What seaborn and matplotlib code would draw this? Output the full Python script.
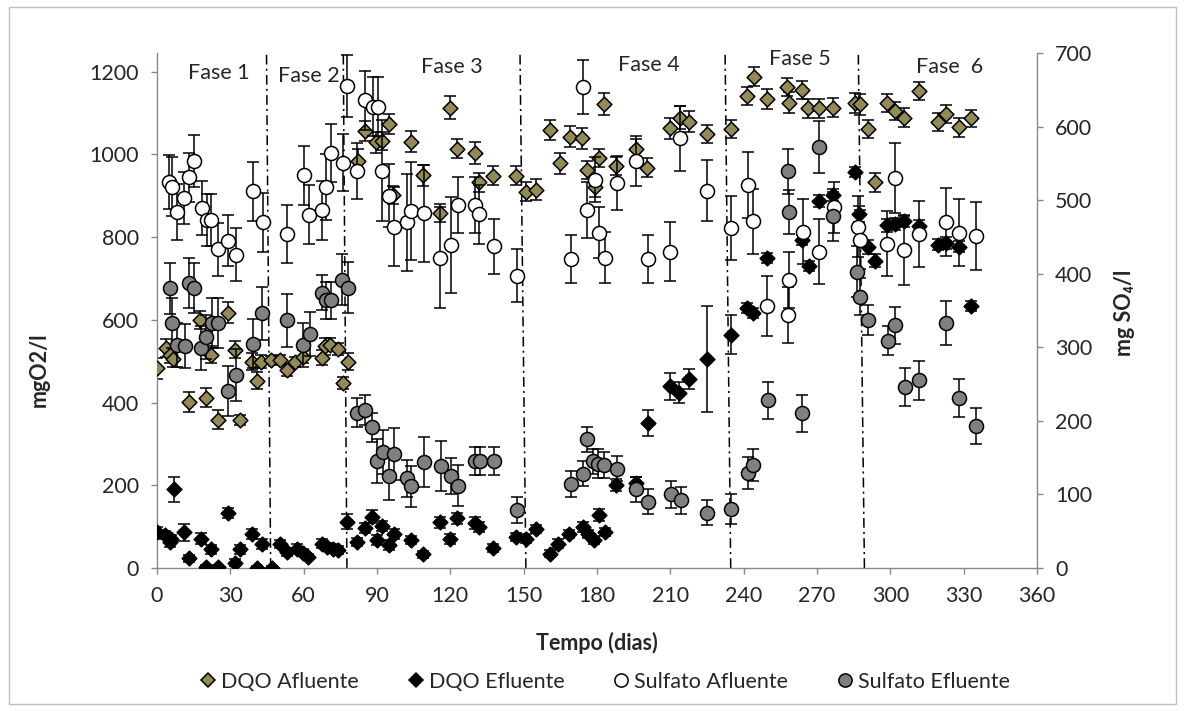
import numpy as np
import pandas as pd
import matplotlib
matplotlib.use("Agg")
import matplotlib.pyplot as plt
import matplotlib.transforms as mtransforms
import seaborn as sns
from matplotlib.lines import Line2D
from matplotlib.patches import Rectangle

# ---------------- data ----------------
dqo_af_dias = [0, 3.7, 5.3, 6.7, 13.1, 17.6, 20, 22.1, 24.8, 29.2, 31.9, 34, 39, 40.8, 42.6, 46.6, 50.3, 53, 56.5, 59.9, 67.4, 68.7, 70.8, 74.2, 76, 78.3,
               82.4, 85.1, 89.6, 91.9, 95, 96.7, 103.8, 109, 115.8, 119.9, 122.9, 130.1, 131.9, 137.6, 146.8, 150.9, 155.1,
               160.8, 164.9, 169, 173.8, 175.8, 179, 181, 182.9, 187.8, 196, 200.6, 209.9, 214, 217.8, 224.9, 234.7,
               241.5, 244.4, 249.7, 257.6, 258.7, 263.7, 266.5, 271, 276.7, 285.6, 287.4, 291, 293.8,
               298.8, 302, 305.6, 311.9, 319.7, 322.8, 327.9, 333]
dqo_af = [483, 532, 516, 505, 401, 600, 412, 516, 358, 617, 528, 358, 499, 453, 499, 503, 502, 479, 499, 511, 508, 536, 540, 529, 447, 499,
          984, 1057, 1029, 1033, 1073, 902, 1031, 949, 859, 1113, 1014, 1003, 932, 948, 948, 910, 915,
          1059, 978, 1043, 1039, 962, 922, 992, 1121, 972, 1012, 968, 1063, 1089, 1079, 1050, 1061,
          1142, 1188, 1134, 1162, 1125, 1156, 1111, 1111, 1113, 1124, 1121, 1061, 932,
          1124, 1105, 1089, 1154, 1079, 1097, 1065, 1087]
dqo_af_err = [25, 22, 20, 20, 24, 22, 24, 20, 23, 25, 20, 12, 20, 20, 15, 10, 12, 15, 12, 15, 18, 20, 15, 15, 15, 20,
              28, 24, 25, 22, 24, 22, 25, 26, 22, 27, 22, 26, 22, 23, 23, 24, 26,
              25, 25, 25, 25, 22, 24, 22, 27, 22, 25, 22, 25, 27, 25, 22, 22,
              22, 22, 24, 22, 25, 22, 22, 22, 22, 25, 25, 22, 22,
              22, 22, 22, 22, 22, 22, 22, 20]

dqo_ef_dias = [0, 3.3, 5.3, 5.9, 7.1, 11, 13.1, 18, 20, 22.1, 24.8, 29.2, 31.9, 34, 39, 40.8, 42.8, 46.9, 50.3, 53, 57.1, 59.9, 61.9, 67.4, 69.4, 72.1, 74.2, 77.9,
               82, 85.1, 88.1, 89.9, 91.9, 95, 97, 103.9, 109, 115.8, 119.9, 122.9, 130.1, 131.9, 137.6, 146.8, 150.9, 155.1,
               160.8, 164.2, 168.7, 174.2, 176.5, 178.6, 181, 183.1, 187.8, 196, 200.8, 209.9, 213.7, 217.8, 224.9, 234.7,
               241.5, 244, 249.7, 263.7, 266.8, 271, 276.7, 285.6, 287.3, 291, 293.8,
               298.6, 302, 305.6, 311.9, 319.7, 322.8, 327.9, 333]
dqo_ef = [87, 79, 63, 70, 190, 86, 23, 71, 2, 45, 2, 134, 13, 45, 82, 1, 59, 1, 58, 39, 47, 37, 27, 59, 51, 47, 43, 112,
          62, 96, 124, 67, 101, 55, 82, 67, 33, 110, 71, 120, 109, 98, 49, 75, 71, 94,
          35, 59, 82, 100, 82, 67, 128, 87, 201, 205, 350, 439, 424, 457, 505, 564,
          629, 617, 750, 793, 731, 887, 902, 957, 856, 776, 743,
          828, 831, 839, 827, 782, 785, 777, 634]
dqo_ef_err = [12, 10, 12, 10, 31, 20, 8, 14, 5, 10, 5, 12, 8, 10, 12, 5, 12, 5, 10, 10, 10, 8, 8, 10, 10, 10, 10, 18,
              10, 12, 15, 12, 12, 12, 12, 10, 8, 14, 12, 14, 14, 12, 10, 10, 10, 10,
              8, 10, 10, 12, 10, 10, 14, 10, 15, 14, 32, 33, 25, 25, 128, 47,
              12, 12, 12, 12, 12, 15, 15, 12, 20, 18, 15,
              15, 15, 15, 15, 14, 14, 14, 12]

sulf_af_dias = [5, 6, 8, 11, 13.2, 15.1, 18.3, 20.3, 22.1, 25.1, 29.2, 32.3, 39.2, 43.3, 53, 60.1, 62.2, 67.4, 69, 71.1, 76, 77.9,
                82, 85.1, 88.3, 90.6, 91.9, 95, 97, 102.2, 104, 109.3, 115.8, 120.2, 123, 130.1, 131.9, 137.9, 147.2,
                169.3, 174.2, 176.1, 179.2, 181, 183.1, 188.1, 195.8, 200.9, 209.9, 214, 224.9, 234.7,
                241.9, 244, 249.7, 258.1, 258.7, 264.1, 271, 277, 286.7, 287.4,
                298.5, 302, 305.6, 311.9, 322.8, 327.9, 335.1]
sulf_af = [525, 518, 484, 503, 531, 553, 489, 473, 473, 433, 445, 426, 512, 470, 454, 534, 480, 486, 518, 564, 551, 655,
           539, 636, 627, 627, 540, 506, 464, 470, 485, 482, 422, 439, 494, 494, 481, 437, 397,
           420, 654, 486, 528, 456, 422, 523, 553, 420, 430, 584, 513, 462,
           521, 471, 356, 344, 391, 457, 430, 490, 464, 446,
           441, 530, 432, 454, 470, 456, 451]
sulf_af_err = [37, 40, 38, 35, 33, 35, 37, 36, 36, 36, 35, 36, 40, 40, 40, 40, 40, 40, 45, 40, 39, 42,
               38, 40, 40, 40, 69, 43, 54, 66, 67, 66, 68, 65, 38, 38, 40, 37, 36,
               33, 37, 38, 30, 35, 35, 37, 34, 33, 40, 44, 41, 44,
               45, 44, 41, 38, 38, 44, 44, 35, 41, 40,
               44, 47, 47, 45, 46, 45, 46]

sulf_ef_dias = [5.3, 6.3, 8.1, 11.5, 13.1, 15.1, 18, 20, 22.4, 25.1, 29.2, 32.2, 39.4, 43.1, 53, 59.9, 62.4, 67.4, 69.1, 71.2, 75.8, 78.3,
                82, 85.1, 88.1, 90.2, 92.3, 95, 97, 102.2, 104, 109.3, 116.1, 120.2, 123, 130.1, 132.1, 137.9, 147.2,
                169.3, 174.2, 175.8, 178.5, 180.6, 182.9, 188.1, 196, 200.9, 210.2, 214.3, 224.9, 234.7,
                241.9, 244, 249.9, 258.1, 258.7, 263.7, 271, 276.7, 286.5, 287.6, 291,
                299, 302, 305.8, 311.9, 322.8, 327.9, 335]
sulf_ef = [380, 333, 303, 302, 388, 380, 299, 314, 333, 333, 240, 262, 305, 346, 337, 303, 318, 374, 364, 364, 392, 381,
           211, 215, 191, 145, 158, 125, 155, 122, 111, 144, 138, 125, 112, 146, 146, 146, 79,
           114, 128, 175, 145, 142, 140, 135, 107, 90, 100, 92, 75, 80,
           129, 140, 228, 539, 484, 210, 572, 478, 403, 369, 337,
           309, 330, 246, 255, 333, 231, 193]
sulf_ef_err = [35, 34, 30, 30, 34, 34, 30, 30, 34, 34, 34, 35, 33, 36, 36, 30, 30, 24, 25, 25, 35, 35,
               20, 20, 20, 30, 30, 32, 35, 25, 28, 34, 34, 25, 28, 19, 19, 19, 18,
               18, 17, 17, 17, 20, 17, 17, 17, 17, 18, 18, 17, 20,
               22, 22, 25, 30, 30, 25, 35, 33, 35, 25, 20,
               20, 25, 26, 26, 30, 26, 25]

# phase boundaries (day at top / bottom of the hand-drawn lines)
fase_lim_topo = [44.8, 76.2, 148.5, 232.4, 286.9]
fase_lim_base = [46.5, 77.7, 150.9, 234.7, 289.4]
fase_nomes = ["Fase 1", "Fase 2", "Fase 3", "Fase 4", "Fase 5", "Fase  6"]
fase_dias = [25.4, 62.0, 120.6, 201.4, 262.8, 324.2]
fase_alt = [0.962, 0.955, 0.972, 0.977, 0.988, 0.972]

serie_nomes = ["DQO Afluente", "DQO Efluente", "Sulfato Afluente", "Sulfato Efluente"]
x_ticks = list(range(0, 361, 30))
y_ticks = list(range(0, 1201, 200))
y2_ticks = list(range(0, 701, 100))

# ---------------- style ----------------
sns.set_theme(style="white")
plt.rcParams['font.family'] = ['Lato', 'DejaVu Sans']
plt.rcParams['lines.scale_dashes'] = False

OLIVE = "#948A54"
GRAY = "#808080"
AXC = "#898989"
FS = 15.5

fig = plt.figure(figsize=(11.85, 7.11), dpi=100)
ax = fig.add_axes([0.13249, 0.20113, 0.74262, 0.72433])
ax2 = ax.twinx()

def plot_series(axis, dias, vals, errs, marker, face, size):
    axis.errorbar(dias, vals, yerr=errs, fmt='none', ecolor='black',
                  elinewidth=1.1, capsize=4.3, capthick=1.1, zorder=2)
    df = pd.DataFrame({"Tempo": dias, "Valor": vals})
    sns.scatterplot(data=df, x="Tempo", y="Valor", ax=axis, marker=marker,
                    color=face, edgecolor='black', linewidth=1.1, s=size,
                    zorder=3, legend=False)

plot_series(ax, dqo_af_dias, dqo_af, dqo_af_err, 'D', OLIVE, 56)
plot_series(ax, dqo_ef_dias, dqo_ef, dqo_ef_err, 'D', 'black', 56)
plot_series(ax2, sulf_af_dias, sulf_af, sulf_af_err, 'o', 'white', 102)
plot_series(ax2, sulf_ef_dias, sulf_ef, sulf_ef_err, 'o', GRAY, 102)

ax.set_xlim(0, 360)
ax.set_ylim(0, 1245)
ax2.set_ylim(0, 700)
ax.set_xticks(x_ticks)
ax.set_yticks(y_ticks)
ax2.set_yticks(y2_ticks)

# phase separators
for t, b in zip(fase_lim_topo, fase_lim_base):
    ax.plot([b, t], [0, 1245], color='black', lw=1.1, dashes=(7, 3, 1.5, 3),
            zorder=1.5, clip_on=False)

trans = mtransforms.blended_transform_factory(ax.transData, ax.transAxes)
for nome, d, h in zip(fase_nomes, fase_dias, fase_alt):
    ax.text(d, h, nome, transform=trans, ha='center', va='center', fontsize=FS)

# spines & ticks
for a in (ax, ax2):
    for s in a.spines.values():
        s.set_color(AXC)
        s.set_linewidth(1.0)
    a.spines['top'].set_visible(False)
ax.spines['right'].set_visible(False)
ax2.spines['left'].set_visible(False)
ax2.spines['bottom'].set_visible(False)

ax.tick_params(axis='x', bottom=True, direction='out', length=4, width=1, color=AXC,
               labelsize=FS, pad=9)
ax.tick_params(axis='y', left=True, direction='out', length=4, width=1, color=AXC,
               labelsize=FS, pad=9)
ax2.tick_params(axis='y', right=True, direction='out', length=4, width=1, color=AXC,
                labelsize=FS, pad=9)

ax.set_xlabel("Tempo (dias)", fontsize=FS, fontweight='bold')
ax.xaxis.set_label_coords(0.5, (568 - 643) / 515)
ax.xaxis.label.set_verticalalignment('center')
ax.set_ylabel("mgO2/l", fontsize=FS, fontweight='bold')
ax.yaxis.set_label_coords((39 - 157) / 880, (568 - 370) / 515)
ax.yaxis.label.set_verticalalignment('center')
ax2.set_ylabel("mg SO₄/l", fontsize=FS, fontweight='bold')
ax2.yaxis.set_label_coords((1124 - 157) / 880, (568 - 313) / 515)
ax2.yaxis.label.set_verticalalignment('center')

# legend
handles = [
    Line2D([], [], ls='none', marker='D', markerfacecolor=OLIVE, markeredgecolor='black', markersize=7.0, mew=1.1),
    Line2D([], [], ls='none', marker='D', markerfacecolor='black', markeredgecolor='black', markersize=7.0, mew=1.1),
    Line2D([], [], ls='none', marker='o', markerfacecolor='white', markeredgecolor='black', markersize=9.5, mew=1.1),
    Line2D([], [], ls='none', marker='o', markerfacecolor=GRAY, markeredgecolor='black', markersize=9.5, mew=1.1),
]
fig.legend(handles, serie_nomes, loc='center', bbox_to_anchor=(0.51, 0.0413), ncol=4,
           frameon=False, fontsize=FS, handletextpad=0.15, columnspacing=2.2, handlelength=0.9)

# outer chart border
fig.patches.append(Rectangle((9 / 1185, 7 / 711), 1167 / 1185, 697 / 711, transform=fig.transFigure,
                             fill=False, edgecolor="#BFBFBF", lw=1.0))

fig.savefig("out.png", dpi=100)
